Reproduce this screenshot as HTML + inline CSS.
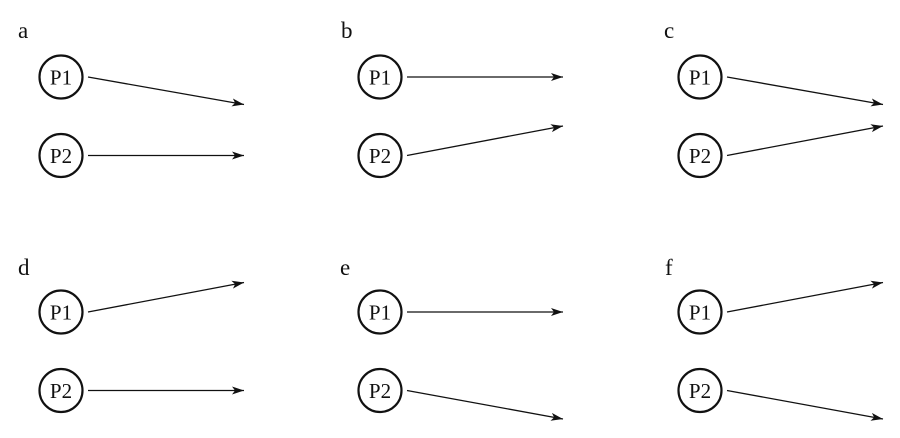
<!DOCTYPE html>
<html>
<head>
<meta charset="utf-8">
<style>
  html, body { margin: 0; padding: 0; background: #fff; }
  svg { display: block; }
  svg text { font-family: "Liberation Serif", "Times New Roman", Times, serif; fill: #111; }
</style>
</head>
<body>
<svg width="900" height="438" viewBox="0 0 900 438" xmlns="http://www.w3.org/2000/svg">
  <defs>
    <marker id="ah" markerWidth="14" markerHeight="10" refX="12" refY="4" orient="auto" markerUnits="userSpaceOnUse">
      <path d="M0,0 L12,4 L0,8 L3,4 Z" fill="#111"/>
    </marker>
  </defs>

  <!-- Labels -->
  <g font-family="Liberation Serif, Times New Roman, serif" font-size="23">
    <text x="18" y="38">a</text>
    <text x="341" y="38">b</text>
    <text x="664" y="38">c</text>
    <text x="18" y="275">d</text>
    <text x="340" y="275">e</text>
    <text x="665" y="275">f</text>
  </g>

  <g fill="none" stroke="#111" stroke-width="2.2">
    <circle cx="61" cy="77" r="21.5"/>
    <circle cx="61" cy="155.5" r="21.5"/>
    <circle cx="380" cy="77" r="21.5"/>
    <circle cx="380" cy="155.5" r="21.5"/>
    <circle cx="700" cy="77" r="21.5"/>
    <circle cx="700" cy="155.5" r="21.5"/>
    <circle cx="61" cy="312" r="21.5"/>
    <circle cx="61" cy="390.5" r="21.5"/>
    <circle cx="380" cy="312" r="21.5"/>
    <circle cx="380" cy="390.5" r="21.5"/>
    <circle cx="700" cy="312" r="21.5"/>
    <circle cx="700" cy="390.5" r="21.5"/>
  </g>

  <g font-family="Liberation Serif, Times New Roman, serif" font-size="21" text-anchor="middle">
    <text x="61" y="84.5">P1</text>
    <text x="61" y="163">P2</text>
    <text x="380" y="84.5">P1</text>
    <text x="380" y="163">P2</text>
    <text x="700" y="84.5">P1</text>
    <text x="700" y="163">P2</text>
    <text x="61" y="319.5">P1</text>
    <text x="61" y="398">P2</text>
    <text x="380" y="319.5">P1</text>
    <text x="380" y="398">P2</text>
    <text x="700" y="319.5">P1</text>
    <text x="700" y="398">P2</text>
  </g>

  <g stroke="#111" stroke-width="1.3" fill="none" marker-end="url(#ah)">
    <line x1="88" y1="77" x2="244" y2="104.5"/>
    <line x1="88" y1="155.5" x2="244" y2="155.5"/>
    <line x1="407" y1="77" x2="563" y2="77"/>
    <line x1="407" y1="155.5" x2="563" y2="126"/>
    <line x1="727" y1="77" x2="883" y2="104.5"/>
    <line x1="727" y1="155.5" x2="883" y2="126"/>
    <line x1="88" y1="312" x2="244" y2="282.5"/>
    <line x1="88" y1="390.5" x2="244" y2="390.5"/>
    <line x1="407" y1="312" x2="563" y2="312"/>
    <line x1="407" y1="390.5" x2="563" y2="419"/>
    <line x1="727" y1="312" x2="883" y2="282.5"/>
    <line x1="727" y1="390.5" x2="883" y2="419"/>
  </g>
</svg>
</body>
</html>
